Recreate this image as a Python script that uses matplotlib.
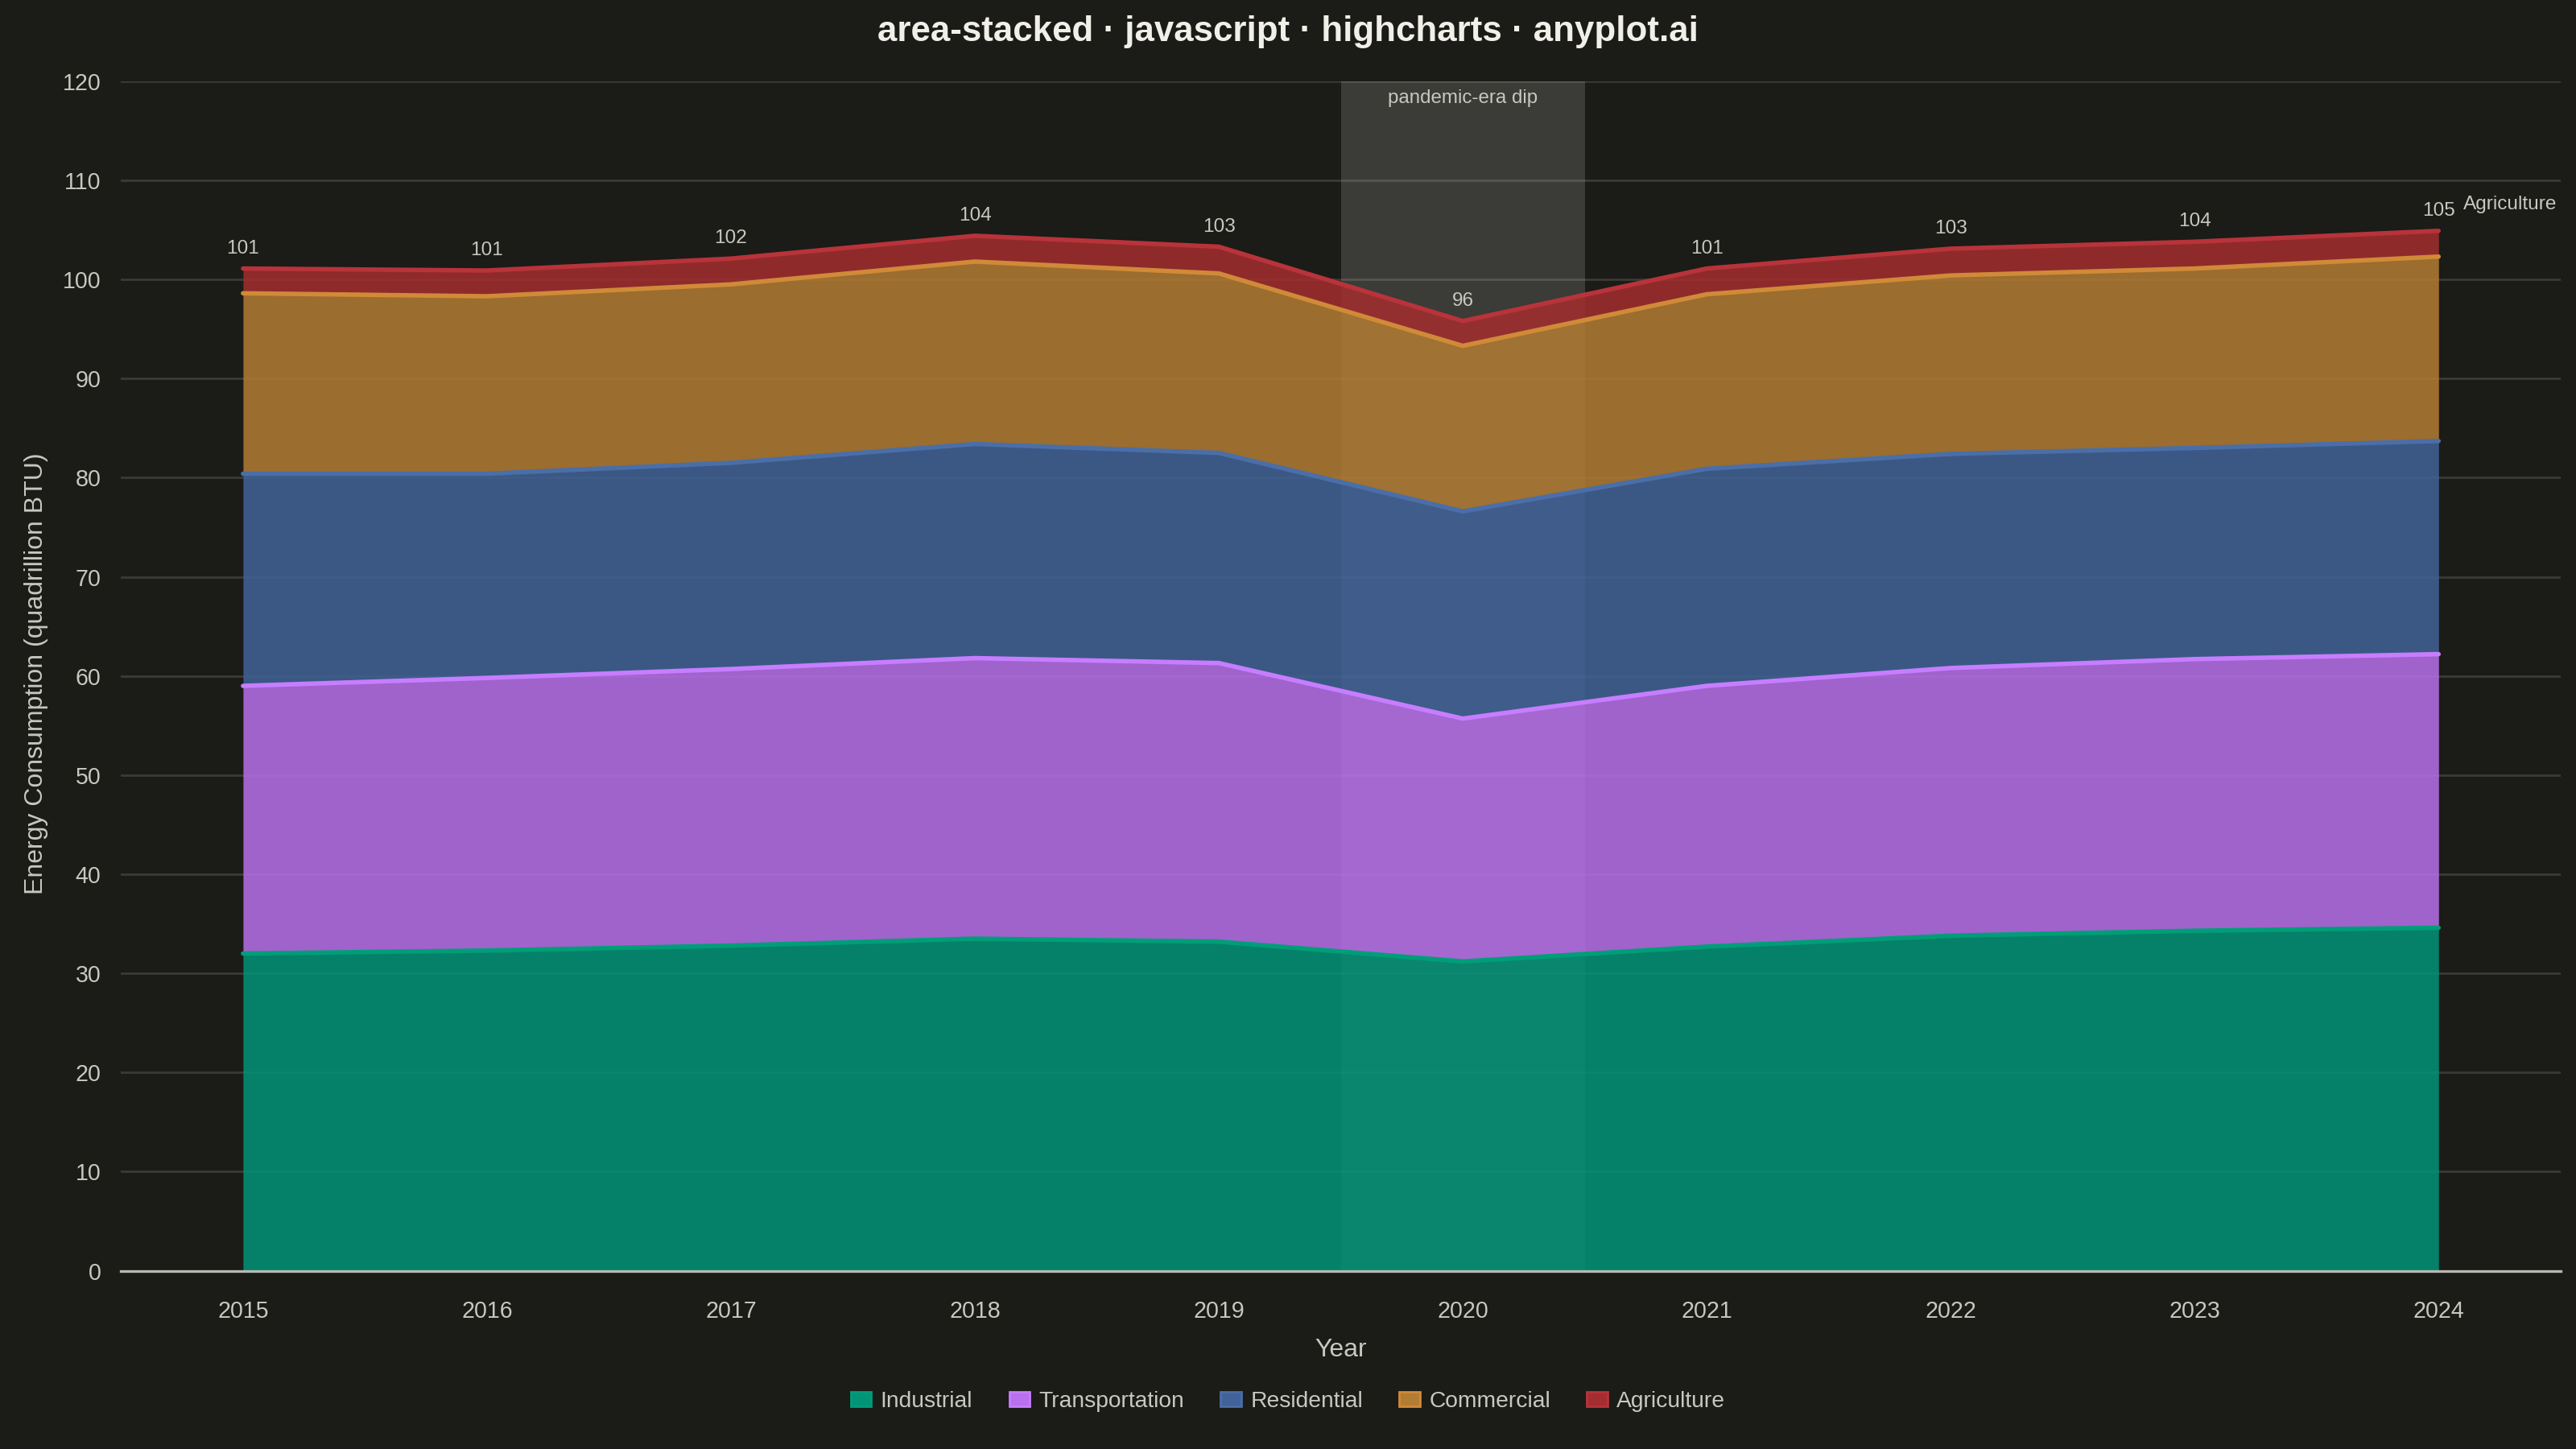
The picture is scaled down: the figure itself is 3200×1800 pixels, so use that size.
import matplotlib
matplotlib.use("Agg")
import matplotlib.pyplot as plt
from matplotlib.patches import Patch
import numpy as np

plt.rcParams['font.family'] = ['Liberation Sans', 'DejaVu Sans']

years = [2015, 2016, 2017, 2018, 2019, 2020, 2021, 2022, 2023, 2024]
series_names = ["Industrial", "Transportation", "Residential", "Commercial", "Agriculture"]

industrial     = [32.0, 32.3, 32.8, 33.5, 33.2, 31.2, 32.7, 33.8, 34.3, 34.6]
transportation = [27.0, 27.5, 27.9, 28.3, 28.1, 24.5, 26.3, 27.0, 27.4, 27.6]
residential    = [21.4, 20.6, 20.8, 21.6, 21.2, 20.9, 21.9, 21.6, 21.3, 21.5]
commercial     = [18.2, 17.9, 18.0, 18.4, 18.1, 16.7, 17.6, 18.0, 18.1, 18.6]
agriculture    = [2.5, 2.6, 2.6, 2.6, 2.7, 2.5, 2.6, 2.7, 2.7, 2.6]

y_ticks = [0, 10, 20, 30, 40, 50, 60, 70, 80, 90, 100, 110, 120]

fill_colors = ["#029478", "#b771ec", "#416399", "#b37c33", "#a42d2f"]
line_colors = ["#009e78", "#c77dff", "#4a6ea8", "#d08a38", "#b8333a"]

bg = "#1b1b17"
text_col = "#c8c8c0"
grid_col = "#3a3a36"

fig = plt.figure(figsize=(16, 9), dpi=200, facecolor=bg)
ax = fig.add_axes([0.047, 0.123, 0.947, 0.821])
ax.set_facecolor(bg)

data = np.array([industrial, transportation, residential, commercial, agriculture])
tops = np.cumsum(data, axis=0)
bottoms = np.vstack([np.zeros(len(years)), tops[:-1]])

# pandemic band sits behind the translucent areas
ax.axvspan(2019.5, 2020.5, color="white", alpha=0.14, linewidth=0, zorder=1)
ax.text(2020, 119.2, "pandemic-era dip", ha="center", va="top", fontsize=8.7,
        color=text_col, zorder=5)

for i in range(len(series_names)):
    ax.fill_between(years, bottoms[i], tops[i], color=fill_colors[i], alpha=0.85,
                    linewidth=0, zorder=2)
    ax.plot(years, tops[i], color=line_colors[i], linewidth=2.0, zorder=3,
            solid_capstyle='round')

# total labels
totals = tops[-1]
for x, t in zip(years, totals):
    ax.annotate(f"{t:.0f}", (x, t), xytext=(0, 5), textcoords="offset points",
                ha="center", va="bottom", fontsize=8.8, color=text_col, zorder=6)

ax.annotate("Agriculture", (years[-1], totals[-1]), xytext=(11, 8),
            textcoords="offset points", ha="left", va="bottom", fontsize=8.8,
            color=text_col, zorder=6)

ax.set_xlim(2014.5, 2024.5)
ax.set_ylim(0, 120)
ax.set_xticks(years)
ax.set_xticklabels([str(y) for y in years])
ax.set_yticks(y_ticks)
ax.yaxis.grid(True, color=grid_col, linewidth=1.0)
ax.set_axisbelow(True)
ax.tick_params(axis='both', length=0, colors=text_col, labelsize=10.3)
ax.tick_params(axis='x', pad=13)
ax.tick_params(axis='y', pad=9)
for s in ["top", "right", "left"]:
    ax.spines[s].set_visible(False)
ax.spines["bottom"].set_color("#b8b8b0")
ax.spines["bottom"].set_linewidth(1.2)
ax.spines["bottom"].set_zorder(7)

ax.set_xlabel("Year", fontsize=11.5, color=text_col, labelpad=7)
fig.text(0.014, 0.535, "Energy Consumption (quadrillion BTU)", rotation=90,
         ha="center", va="center", fontsize=11.5, color=text_col)

fig.text(0.5, 0.978, "area-stacked · javascript · highcharts · anyplot.ai",
         ha="center", va="center", fontsize=15.8, fontweight="bold", color="#f0efe8")

handles = [Patch(facecolor=fill_colors[i], edgecolor=line_colors[i], linewidth=1.0)
           for i in range(len(series_names))]
fig.legend(handles, series_names, loc="center", bbox_to_anchor=(0.5, 0.033),
           ncol=5, frameon=False, fontsize=10.2, labelcolor=text_col,
           handlelength=0.9, handleheight=0.6, handletextpad=0.4, columnspacing=1.6)

fig.savefig("out.png", dpi=200, facecolor=bg)
